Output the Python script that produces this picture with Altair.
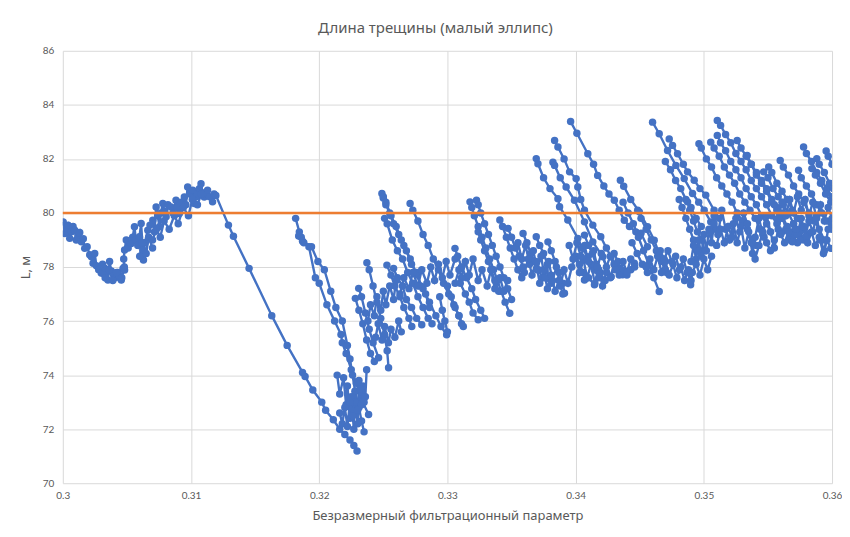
import altair as alt
import pandas as pd

# ---------------- axis / reference values ----------------
x_ticks = [0.30, 0.31, 0.32, 0.33, 0.34, 0.35, 0.36]
y_ticks = [70, 72, 74, 76, 78, 80, 82, 84, 86]
target_x = [0.30, 0.36]
target_y = [80, 80]

# ---------------- blue series ----------------
# start: noisy cloud 0.300-0.312 and the long descent to the minimum
start_path = [
    (0.30003, 79.67), (0.30016, 79.24), (0.30030, 79.45), (0.30041, 79.55), (0.30054, 79.06),
    (0.30068, 79.30), (0.30080, 79.50), (0.30093, 79.36), (0.30105, 79.00), (0.30119, 79.12),
    (0.30132, 79.28), (0.30145, 78.93), (0.30160, 79.05), (0.30171, 78.69), (0.30190, 78.75),
    (0.30210, 78.45), (0.30223, 78.38), (0.30236, 78.14), (0.30249, 78.50), (0.30262, 78.05),
    (0.30280, 77.90), (0.30300, 77.78), (0.30313, 77.77), (0.30330, 77.95), (0.30352, 77.52),
    (0.30365, 78.20), (0.30378, 77.85), (0.30391, 77.77), (0.30410, 77.60), (0.30430, 77.80),
    (0.30443, 77.64), (0.30456, 77.52), (0.30470, 77.95), (0.30482, 77.89), (0.30475, 78.30),
    (0.30482, 78.63), (0.30495, 79.00), (0.30510, 78.70), (0.30534, 78.87), (0.30545, 79.10),
    (0.30559, 79.49), (0.30570, 79.00), (0.30585, 78.80), (0.30598, 79.12), (0.30611, 79.61),
    (0.30624, 78.63), (0.30629, 78.26), (0.30640, 78.90), (0.30663, 79.36), (0.30680, 79.55),
    (0.30702, 79.73), (0.30715, 79.30), (0.30728, 80.22), (0.30740, 79.90), (0.30754, 79.49),
    (0.30765, 80.00), (0.30780, 80.35), (0.30795, 80.05), (0.30806, 79.86), (0.30820, 80.30),
    (0.30844, 80.22), (0.30860, 80.00), (0.30883, 80.47), (0.30895, 80.20), (0.30909, 79.98),
    (0.30925, 80.40), (0.30948, 80.59), (0.30960, 80.30), (0.30974, 80.96), (0.30990, 80.70),
    (0.31013, 80.84), (0.31026, 80.35), (0.31040, 80.60), (0.31052, 80.72), (0.31065, 80.90),
    (0.31078, 81.08), (0.31090, 80.75), (0.31103, 80.59), (0.31115, 80.70), (0.31129, 80.84),
    (0.31145, 80.60), (0.31168, 80.41), (0.31180, 80.70), (0.31194, 80.65), (0.31292, 79.55),
    (0.31331, 79.14), (0.31453, 77.95), (0.31630, 76.20), (0.31750, 75.10), (0.31870, 74.10),
    (0.31890, 73.95), (0.31950, 73.45), (0.32020, 73.00), (0.32050, 72.70), (0.32110, 72.35),
    (0.32160, 72.00), (0.32200, 71.80), (0.32240, 71.60), (0.32270, 71.40), (0.32295, 71.19),
]

cloud_extra = [
    [(0.3031, 78.1), (0.3033, 77.6), (0.3036, 77.9), (0.3039, 77.5), (0.3042, 77.8), (0.3046, 77.6), (0.3048, 78.0)],
    [(0.3060, 78.4), (0.3062, 78.9), (0.3065, 78.5), (0.3067, 79.1), (0.3070, 78.7)],
    [(0.3070, 79.0), (0.3073, 79.4), (0.3076, 79.1), (0.3079, 79.7), (0.3083, 79.4), (0.3087, 79.9),
     (0.3090, 79.6), (0.3094, 80.2), (0.3098, 79.9), (0.3101, 80.5), (0.3105, 80.3), (0.3108, 80.7)],
]

teeth_b = [
    [(0.31816, 79.8), (0.31845, 79.3), (0.3186, 79.1), (0.3188, 78.9), (0.3192, 78.75), (0.3197, 77.6),
     (0.3200, 77.4), (0.3206, 76.6), (0.3212, 76.0), (0.3217, 75.5), (0.3218, 75.2), (0.3221, 74.8),
     (0.3225, 74.2), (0.3229, 73.7), (0.3234, 73.0), (0.32385, 72.54)],
    [(0.3184, 79.15), (0.3187, 78.95), (0.3194, 78.75), (0.3199, 78.2), (0.3204, 77.9), (0.3209, 77.1),
     (0.3213, 76.5), (0.3218, 76.0), (0.3222, 75.1), (0.3224, 74.6), (0.3226, 74.0), (0.3228, 73.4),
     (0.3231, 72.8), (0.3233, 72.3), (0.3235, 71.9)],
    [(0.3214, 74.0), (0.3216, 73.3), (0.3219, 73.9), (0.3221, 72.9), (0.3222, 73.6), (0.3224, 72.4),
     (0.3225, 73.2), (0.3227, 72.0), (0.3228, 73.0), (0.3230, 72.2), (0.3231, 73.8), (0.3233, 72.9),
     (0.3234, 73.6), (0.3236, 73.2), (0.3237, 74.2)],
    [(0.3216, 72.6), (0.3218, 72.2), (0.3220, 72.8), (0.3222, 72.1), (0.3224, 73.0), (0.3226, 72.5),
     (0.3228, 73.4), (0.3230, 72.7), (0.3232, 73.5), (0.3235, 73.0)],
]

teeth_c = [
    [(0.32372, 78.16), (0.3239, 77.9), (0.3242, 77.3), (0.3245, 76.7), (0.3248, 76.1), (0.3251, 75.5), (0.3253, 74.9), (0.32541, 74.27)],
    [(0.32308, 77.21), (0.3233, 76.9), (0.3236, 76.3), (0.3239, 75.7), (0.3242, 75.2), (0.32463, 74.64)],
    [(0.32282, 76.84), (0.3231, 76.4), (0.3234, 75.9), (0.3237, 75.3), (0.3240, 74.8), (0.3243, 74.5)],
    [(0.32528, 78.07), (0.3256, 77.7), (0.3259, 77.3), (0.3263, 76.9), (0.3266, 76.5), (0.3270, 76.1), (0.32722, 75.8)],
    [(0.32489, 80.72), (0.3250, 80.55), (0.3252, 80.3), (0.3255, 80.0), (0.3258, 79.6), (0.3262, 79.2), (0.3266, 78.8),
     (0.3271, 78.3), (0.3276, 77.7), (0.3281, 77.2), (0.3286, 76.7), (0.3291, 76.2), (0.3295, 75.8), (0.32994, 75.49)],
    [(0.3251, 79.8), (0.3253, 79.6), (0.3257, 79.0), (0.3261, 78.6), (0.3265, 78.3), (0.3269, 77.8), (0.3273, 77.4),
     (0.3277, 76.9), (0.3281, 76.5), (0.3285, 76.1), (0.3288, 75.9)],
    [(0.32709, 80.35), (0.3273, 80.1), (0.3277, 79.7), (0.3281, 79.2), (0.3285, 78.8), (0.3289, 78.3), (0.3293, 77.9),
     (0.3297, 77.4), (0.3301, 77.0), (0.3305, 76.6), (0.3309, 76.2), (0.33124, 75.8)],
    [(0.3250, 80.6), (0.3252, 80.4), (0.3256, 79.9), (0.3260, 79.5), (0.3264, 79.0), (0.3268, 78.6), (0.3272, 78.1),
     (0.3276, 77.8), (0.3279, 77.3), (0.3283, 77.0), (0.3286, 76.5)],
    [(0.3258, 77.95), (0.3261, 77.6), (0.3265, 77.3), (0.3268, 76.8), (0.3272, 76.5), (0.3276, 76.1), (0.3280, 75.86)],
    [(0.3263, 77.0), (0.3266, 77.6), (0.3270, 77.2), (0.3273, 77.8), (0.3277, 77.3), (0.3280, 77.9), (0.3284, 77.4),
     (0.3287, 78.0), (0.3290, 77.5), (0.3293, 78.1), (0.3296, 77.6), (0.3299, 78.2), (0.3302, 77.7), (0.3306, 78.3)],
    [(0.3238, 76.0), (0.3240, 76.6), (0.3243, 76.2), (0.3245, 76.9), (0.3248, 76.4), (0.3250, 77.1), (0.3252, 76.6),
     (0.3255, 77.3), (0.3258, 76.8), (0.3260, 77.5)],
    [(0.3244, 75.4), (0.3246, 75.9), (0.3249, 75.3), (0.3251, 75.8), (0.3254, 75.2), (0.3256, 75.7), (0.3259, 75.4),
     (0.3262, 76.0), (0.3264, 75.6)],
    [(0.33059, 78.69), (0.3308, 78.4), (0.3311, 78.0), (0.3315, 77.6), (0.3319, 77.2), (0.3322, 76.8), (0.3326, 76.4), (0.3329, 76.1)],
    [(0.33176, 80.41), (0.3319, 80.2), (0.3321, 79.9), (0.3324, 79.5), (0.3327, 79.1), (0.3330, 78.7), (0.3333, 78.3),
     (0.3336, 77.9), (0.3339, 77.5), (0.3342, 77.1), (0.3345, 76.7), (0.33486, 76.29)],
    [(0.33227, 80.47), (0.3324, 80.3), (0.3326, 80.0), (0.3329, 79.6), (0.3332, 79.2), (0.3335, 78.8), (0.3338, 78.4),
     (0.3341, 78.0), (0.3344, 77.6), (0.3347, 77.2), (0.3350, 76.8)],
    [(0.3324, 79.3), (0.3326, 79.0), (0.3329, 78.6), (0.3332, 78.2), (0.3334, 77.9), (0.3337, 77.5), (0.3340, 77.1)],
    [(0.33409, 79.74), (0.3343, 79.5), (0.3346, 79.1), (0.3349, 78.7), (0.3352, 78.3), (0.3355, 77.9), (0.3358, 77.6)],
    [(0.33473, 79.43), (0.3350, 79.1), (0.3353, 78.7), (0.3356, 78.4), (0.3359, 78.0)],
    [(0.3306, 77.4), (0.3309, 77.9), (0.3311, 77.6), (0.3314, 78.2), (0.3317, 77.7), (0.3320, 78.3), (0.3324, 77.5),
     (0.3327, 77.9), (0.3331, 77.3), (0.3334, 77.9), (0.3337, 77.2), (0.3341, 77.6), (0.3344, 77.1), (0.3347, 77.5)],
    [(0.3300, 77.3), (0.3303, 76.9), (0.3306, 76.5), (0.3309, 76.2), (0.3311, 75.9)],
    [(0.3310, 77.4), (0.3314, 77.0), (0.3317, 76.7), (0.3320, 76.3), (0.3324, 76.05)],
    [(0.3294, 76.9), (0.3296, 76.4), (0.3298, 76.0), (0.3300, 75.6)],
]

teeth_d = [
    [(0.33961, 83.38), (0.3401, 82.95), (0.34095, 82.19), (0.3414, 81.8), (0.34172, 81.39), (0.3422, 81.0),
     (0.3426, 80.7), (0.34302, 80.47), (0.3434, 80.1), (0.3438, 79.73), (0.3442, 79.5), (0.3447, 79.3), (0.3451, 79.25), (0.3456, 78.75)],
    [(0.33836, 82.68), (0.33862, 82.44), (0.3391, 82.0), (0.33953, 81.52), (0.34004, 81.27), (0.34017, 80.96),
     (0.3404, 80.5), (0.34069, 80.1), (0.34134, 79.55), (0.34196, 79.12), (0.3424, 78.7), (0.34276, 78.38), (0.3432, 78.0), (0.34367, 77.71)],
    [(0.33693, 82.01), (0.33706, 81.82), (0.3375, 81.3), (0.3380, 80.9), (0.33862, 80.53), (0.33875, 80.23),
     (0.33939, 79.74), (0.34017, 79.06), (0.3405, 78.7), (0.34095, 78.38), (0.34147, 77.89), (0.3418, 77.6)],
    [(0.33823, 81.88), (0.33836, 81.76), (0.3388, 81.3), (0.33926, 80.96), (0.33991, 80.47), (0.34069, 79.67),
     (0.34134, 78.93), (0.34212, 78.38), (0.34276, 77.64)],
    [(0.34349, 81.21), (0.34375, 80.99), (0.3443, 80.5), (0.34497, 80.04), (0.34561, 79.49), (0.34613, 78.99),
     (0.34665, 78.32), (0.3470, 77.9)],
    [(0.3437, 80.4), (0.3441, 80.0), (0.3445, 79.6), (0.3449, 79.1), (0.3453, 78.6), (0.3457, 78.1), (0.3461, 77.6), (0.34652, 77.09)],
    [(0.34484, 80.1), (0.3451, 79.8), (0.3455, 79.4), (0.3459, 79.0), (0.3463, 78.6), (0.3467, 78.2), (0.3471, 77.8)],
    [(0.3444, 78.9), (0.3448, 78.5), (0.3452, 78.1), (0.3456, 77.8)],
    [(0.3359, 79.24), (0.3362, 78.9), (0.3365, 78.5), (0.3368, 78.2), (0.3371, 77.9), (0.3374, 77.6)],
    [(0.33693, 79.12), (0.3372, 78.8), (0.3375, 78.5), (0.3378, 78.1), (0.33784, 77.58), (0.3381, 77.4)],
    [(0.33784, 78.93), (0.3381, 78.6), (0.3384, 78.2), (0.3387, 77.8), (0.3390, 77.4), (0.33913, 77.03)],
    [(0.34004, 78.38), (0.3403, 78.1), (0.3406, 77.8), (0.34069, 77.52), (0.3410, 77.6), (0.34147, 77.34)],
    [(0.34069, 79.18), (0.3410, 78.8), (0.3413, 78.5), (0.3416, 78.1), (0.3419, 77.8), (0.3423, 77.5), (0.34276, 77.64)],
    [(0.3430, 78.5), (0.3433, 78.2), (0.3436, 77.9), (0.3440, 77.7), (0.3443, 77.9), (0.34458, 78.14)],
    [(0.3355, 78.9), (0.3358, 78.3), (0.3361, 78.8), (0.3364, 78.1), (0.3367, 78.6), (0.3370, 77.9), (0.3373, 78.4),
     (0.3376, 77.6), (0.3379, 78.2), (0.3382, 77.5), (0.3385, 78.0), (0.3388, 77.3), (0.3391, 77.9), (0.3394, 77.4),
     (0.3397, 78.0), (0.3400, 78.4), (0.3403, 77.8), (0.3406, 78.3), (0.3409, 77.6), (0.3412, 78.1), (0.3415, 77.4),
     (0.3418, 77.9), (0.3421, 77.3), (0.3424, 77.8), (0.3427, 77.6), (0.3430, 78.1), (0.3434, 77.7), (0.3437, 78.2),
     (0.3440, 77.8), (0.3443, 78.3), (0.3446, 78.0)],
    [(0.3360, 77.8), (0.3363, 78.3), (0.3366, 77.7), (0.3369, 78.2), (0.3372, 77.4), (0.3375, 77.9), (0.3378, 77.2),
     (0.3381, 77.7), (0.3384, 77.1), (0.3387, 77.5), (0.3390, 77.0)],
    [(0.3395, 78.8), (0.3398, 78.3), (0.3401, 78.9), (0.3404, 78.4), (0.3407, 78.8), (0.3410, 78.2), (0.3414, 78.6),
     (0.3417, 78.0), (0.3420, 78.5), (0.3424, 78.0), (0.3427, 78.4), (0.3431, 77.9)],
]

teeth_e = [
    [(0.34600, 83.36), (0.34652, 82.93), (0.34717, 82.31), (0.34782, 81.76), (0.34847, 81.27), (0.34912, 80.72),
     (0.3496, 80.4), (0.35003, 80.1), (0.35054, 79.67), (0.3509, 79.4)],
    [(0.34730, 82.74), (0.34756, 82.5), (0.34795, 82.19), (0.3484, 81.8), (0.34873, 81.52), (0.34925, 81.21),
     (0.3497, 80.9), (0.35015, 80.66), (0.3508, 80.1), (0.3512, 79.8)],
    [(0.3470, 81.9), (0.3474, 81.6), (0.3478, 81.2), (0.3482, 80.9), (0.3486, 80.5), (0.3490, 80.2), (0.3494, 79.8), (0.3498, 79.5)],
    [(0.34808, 80.5), (0.3483, 80.2), (0.3486, 79.8), (0.3489, 79.4), (0.3492, 79.0), (0.3495, 78.6)],
    [(0.34873, 80.41), (0.3489, 80.1), (0.3492, 79.7), (0.3495, 79.3), (0.3498, 79.0), (0.3501, 78.6)],
    [(0.3490, 78.2), (0.3492, 78.8), (0.3494, 78.3), (0.3496, 79.0), (0.3498, 78.4), (0.3500, 79.2), (0.3502, 78.6),
     (0.3504, 79.4), (0.3506, 78.9), (0.3508, 79.6)],
    [(0.3455, 78.0), (0.3458, 78.3), (0.3461, 77.9), (0.3464, 78.4), (0.3467, 77.8), (0.3470, 78.2), (0.3473, 77.7),
     (0.3476, 78.1), (0.3479, 77.6), (0.3482, 78.0), (0.3485, 77.5), (0.3488, 77.9), (0.34897, 77.34), (0.3491, 77.8),
     (0.3494, 78.1), (0.3497, 77.7), (0.3500, 78.3), (0.3503, 77.9), (0.3506, 78.4)],
    [(0.3466, 78.6), (0.3469, 78.3), (0.3472, 78.6), (0.3475, 78.2), (0.3478, 78.4), (0.3481, 77.9), (0.3484, 78.3),
     (0.3487, 77.8), (0.3490, 77.5)],
]

teeth_f = [
    [(0.34962, 82.56), (0.3498, 82.4), (0.3502, 82.0), (0.3506, 81.7), (0.3510, 81.3), (0.3514, 81.0), (0.3518, 80.7),
     (0.3522, 80.4), (0.3526, 80.0), (0.3530, 79.7), (0.3534, 79.4), (0.3538, 79.0), (0.3541, 78.8)],
    [(0.35054, 82.62), (0.3508, 82.4), (0.3512, 82.1), (0.3516, 81.7), (0.3520, 81.4), (0.3524, 81.1), (0.3528, 80.7),
     (0.3532, 80.4), (0.3536, 80.1), (0.3540, 79.8), (0.3544, 79.4), (0.3547, 79.1)],
    [(0.35105, 83.42), (0.35131, 83.24), (0.3517, 82.9), (0.3521, 82.6), (0.3525, 82.2), (0.3529, 81.9), (0.3533, 81.6),
     (0.3537, 81.2), (0.3541, 80.9), (0.3545, 80.6), (0.3549, 80.3), (0.3553, 79.9), (0.3557, 79.6), (0.3561, 79.3)],
    [(0.35105, 82.87), (0.3513, 82.6), (0.3517, 82.3), (0.3521, 81.9), (0.3525, 81.6), (0.3529, 81.3), (0.3533, 80.9),
     (0.3537, 80.6), (0.3541, 80.3), (0.3545, 79.9), (0.3549, 79.6), (0.3552, 79.3)],
    [(0.3526, 82.68), (0.3529, 82.4), (0.3533, 82.1), (0.3537, 81.8), (0.3541, 81.4), (0.3545, 81.1), (0.3549, 80.8),
     (0.3553, 80.4), (0.3557, 80.1), (0.3561, 79.8), (0.3565, 79.4), (0.3569, 79.1)],
    [(0.35338, 82.13), (0.3537, 81.8), (0.3541, 81.5), (0.3545, 81.2), (0.3549, 80.9), (0.3553, 80.5), (0.3557, 80.2),
     (0.3561, 79.9), (0.3565, 79.5), (0.3569, 79.2), (0.3573, 78.9)],
    [(0.35467, 81.52), (0.3550, 81.3), (0.3554, 80.9), (0.3558, 80.6), (0.3562, 80.3), (0.3566, 80.0), (0.3570, 79.6),
     (0.3574, 79.3), (0.3578, 79.0)],
    [(0.35506, 81.7), (0.3553, 81.5), (0.3557, 81.1), (0.3561, 80.8), (0.3565, 80.5), (0.3569, 80.1), (0.3573, 79.8),
     (0.3577, 79.5), (0.3581, 79.2)],
    [(0.35596, 81.94), (0.3562, 81.7), (0.3566, 81.4), (0.3570, 81.0), (0.3574, 80.7), (0.3578, 80.4), (0.3582, 80.0),
     (0.3586, 79.7), (0.3590, 79.4), (0.3594, 79.0)],
    [(0.35739, 81.58), (0.3576, 81.3), (0.3580, 81.0), (0.3584, 80.7), (0.3588, 80.3), (0.3592, 80.0), (0.3596, 79.7), (0.3600, 79.4)],
    [(0.35778, 82.44), (0.3580, 82.2), (0.3584, 81.9), (0.3588, 81.5), (0.3592, 81.2), (0.3596, 80.9), (0.3600, 80.6)],
    [(0.35881, 82.01), (0.3590, 81.8), (0.3594, 81.5), (0.3598, 81.1), (0.3601, 80.9)],
    [(0.35843, 81.64), (0.3587, 81.4), (0.3591, 81.1), (0.3595, 80.7), (0.3599, 80.4)],
    [(0.35954, 82.29), (0.3597, 82.1), (0.3600, 81.8)],
    [(0.3505, 79.3), (0.3508, 79.9), (0.3511, 79.2), (0.3514, 80.1), (0.3517, 79.4), (0.3520, 79.0), (0.3523, 79.6),
     (0.3526, 78.9), (0.3529, 79.5), (0.3532, 78.7), (0.3535, 79.3), (0.3538, 78.5), (0.3540, 79.1), (0.3543, 79.8),
     (0.3546, 79.2), (0.3549, 79.9), (0.3552, 79.3), (0.3555, 78.7), (0.3558, 79.4), (0.3561, 80.0), (0.3564, 79.4),
     (0.3567, 79.0), (0.3570, 79.6), (0.3573, 79.2), (0.3576, 79.8), (0.3579, 79.1), (0.3582, 79.7), (0.3585, 79.3),
     (0.3588, 79.9), (0.3591, 79.0), (0.3594, 78.6), (0.3597, 79.4), (0.3600, 79.6)],
    [(0.3510, 78.8), (0.3513, 79.4), (0.3516, 78.9), (0.3519, 79.5), (0.3522, 79.1), (0.3525, 79.8), (0.3528, 79.3),
     (0.3531, 80.0), (0.3534, 79.6), (0.3537, 78.9), (0.3540, 78.3), (0.3543, 78.8), (0.3546, 79.3), (0.3549, 78.9),
     (0.3552, 78.6), (0.3555, 79.0)],
    [(0.3555, 80.3), (0.3558, 79.8), (0.3561, 80.4), (0.3564, 79.9), (0.3567, 80.5), (0.3570, 80.0), (0.3573, 80.6),
     (0.3576, 80.1), (0.3579, 80.5), (0.3582, 79.9), (0.3585, 80.4), (0.3588, 79.8), (0.3591, 80.3), (0.3594, 79.7),
     (0.3597, 80.2), (0.3600, 79.8)],
    [(0.3560, 79.2), (0.3563, 78.9), (0.3566, 79.3), (0.3569, 78.93), (0.3572, 79.4), (0.3575, 79.0), (0.3578, 79.5),
     (0.3581, 78.9), (0.3584, 79.3), (0.3587, 78.8), (0.3590, 79.1), (0.35933, 78.5), (0.3596, 79.0), (0.3599, 78.69)],
]

# ---------------- build table ----------------
groups = [[start_path], cloud_extra, teeth_b, teeth_c, teeth_d, teeth_e, teeth_f]
rows = []
sid = 0
for group in groups:
    for strand in group:
        for i, (xv, yv) in enumerate(strand):
            rows.append({"x": xv, "y": yv, "s": sid, "o": i})
        sid += 1
df = pd.DataFrame(rows)
target_df = pd.DataFrame({"x": target_x, "y": target_y})

BLUE = "#4472C4"
ORANGE = "#ED7D31"
TXT = "#595959"

X = alt.X("x:Q",
          scale=alt.Scale(domain=[0.30, 0.36], nice=False, zero=False),
          axis=alt.Axis(values=x_ticks, format="~g", title="Безразмерный фильтрационный параметр",
                        labelPadding=7, titlePadding=9, labelFlush=False))
Y = alt.Y("y:Q",
          scale=alt.Scale(domain=[70, 86], nice=False, zero=False),
          axis=alt.Axis(values=y_ticks, title="L, м", labelPadding=9, titlePadding=10))

lines = alt.Chart(df).mark_line(color=BLUE, strokeWidth=2.4, clip=True).encode(
    x=X, y=Y, detail="s:N", order="o:Q")
pts = alt.Chart(df).mark_circle(color=BLUE, size=56, opacity=1, clip=True).encode(x=X, y=Y)
target = alt.Chart(target_df).mark_line(color=ORANGE, strokeWidth=2.5).encode(x=X, y=Y)

chart = alt.layer(lines, pts, target).properties(
    width=772, height=434,
    title=alt.TitleParams("Длина трещины (малый эллипс)", fontSize=15, font="Noto Sans",
                          fontWeight="normal", color=TXT, anchor="middle", offset=10, dx=-12),
    autosize=alt.AutoSizeParams(type="none"),
    padding={"left": 55, "top": 42, "right": 10, "bottom": 45},
).configure_axis(
    labelColor=TXT, labelFontSize=10, labelFont="Lato",
    titleColor=TXT, titleFontSize=13, titleFontWeight="normal", titleFont="Noto Sans",
    gridColor="#D9D9D9", gridWidth=1, domain=False, ticks=False,
).configure_view(stroke=None)

chart.save("out.html", embed_options={"renderer": "svg", "actions": False})
